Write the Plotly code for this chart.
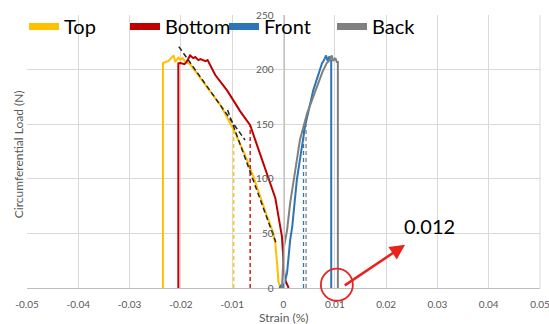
import plotly.graph_objects as go

# ---- measured curves: strain (%) vs circumferential load (N) ----
top_strain = [-0.0006, -0.0010, -0.0012, -0.0016, -0.0020, -0.0032, -0.0058, -0.0075,
              -0.0097, -0.0123, -0.0149, -0.0182, -0.0191, -0.0197, -0.0201, -0.0205,
              -0.0211, -0.0214, -0.0224, -0.0235, -0.0235]
top_load = [0, 6, 20, 41, 50.5, 65.5, 101, 122,
            145, 167.5, 184, 205, 207, 210.5, 209, 211,
            207, 213, 208, 206, 0]

bottom_strain = [0.0010, 0.0007, 0.0003, 0.0001, -0.0001, -0.0003, -0.0016, -0.0026,
                 -0.0045, -0.0065, -0.0084, -0.0110, -0.0133, -0.0143, -0.0148, -0.0152,
                 -0.0162, -0.0166, -0.0172, -0.0176, -0.0182, -0.0189, -0.0193, -0.0201,
                 -0.0205, -0.0205]
bottom_load = [0, 4, 7.6, 17, 30, 47, 82.5, 96,
               120, 149, 161.5, 181, 195, 205, 208.7, 207.8,
               209.6, 208.7, 211.5, 210.5, 213, 207, 205, 206,
               205.7, 0]

front_strain = [-0.0008, -0.0004, -0.0002, 0.0002, 0.0007, 0.0013, 0.0017, 0.0026,
                0.0042, 0.0058, 0.0075, 0.0079, 0.0083, 0.0086, 0.0089, 0.0092,
                0.0093, 0.0093]
front_load = [0, 3, 0, 4, 14, 44, 56, 99,
              148, 181, 205.7, 208.7, 213, 207.8, 212, 207.8,
              207.8, 0]

back_strain = [-0.0003, -0.0001, 0.0001, 0.0007, 0.0013, 0.0023, 0.0032, 0.0046,
               0.0065, 0.0076, 0.0084, 0.0090, 0.0094, 0.0097, 0.0101, 0.0104,
               0.0106, 0.0106]
back_load = [0, 30, 38, 53, 78, 108, 135.5, 160,
             184, 198, 205.7, 208.7, 213, 208, 210.5, 207,
             207, 0]

# strain read-off markers (dashed verticals) for each curve
marker_strain = [-0.0097, -0.0065, 0.0039, 0.0044]
marker_load = [145, 149, 148, 150]

# linear fits drawn over the Top curve
fit1_strain = [-0.0204, -0.0075]
fit1_load = [221, 135.5]
fit2_strain = [-0.0109, -0.0015]
fit2_load = [163, 42]

series_names = ["Top", "Bottom", "Front", "Back"]
series_colors = ["#FFC000", "#C00000", "#2E75B6", "#808080"]

x_tickvals = [-0.05, -0.04, -0.03, -0.02, -0.01, 0, 0.01, 0.02, 0.03, 0.04, 0.05]
x_ticktext = ["-0.05", "-0.04", "-0.03", "-0.02", "-0.01", "0",
              "0.01", "0.02", "0.03", "0.04", "0.05"]
y_tickvals = [0, 50, 100, 150, 200, 250]

highlight_point = (0.0104, 3)      # circled strain value
arrow_tail = (0.01165, 1.5)
arrow_head = (0.0237, 39.5)
label_pos = (0.0285, 57)
label_text = "0.012"

x_range = [-0.05, 0.05]
y_range = [0, 250]

W, H = 549, 324
M = dict(l=27, r=9, t=15, b=36)
plot_w = W - M["l"] - M["r"]
plot_h = H - M["t"] - M["b"]

FONT = "Lato, 'Open Sans', sans-serif"
GRID = "#D9D9D9"
TICK = "#595959"

# left edge (px) of each legend entry's text
legend_text_px = [64, 165, 264, 372]


def to_paper_x(v):
    return (v - x_range[0]) / (x_range[1] - x_range[0])


def to_paper_y(v):
    return (v - y_range[0]) / (y_range[1] - y_range[0])


fig = go.Figure()

curves = [(top_strain, top_load), (bottom_strain, bottom_load),
          (front_strain, front_load), (back_strain, back_load)]
for (xs, ys), color in zip(curves, series_colors):
    fig.add_trace(go.Scatter(x=xs, y=ys, mode="lines",
                             line=dict(color=color, width=2),
                             showlegend=False, hoverinfo="skip"))

for s, l, color in zip(marker_strain, marker_load, series_colors):
    fig.add_trace(go.Scatter(x=[s, s], y=[0, l], mode="lines",
                             line=dict(color=color, width=1.3, dash="4px,3px"),
                             showlegend=False, hoverinfo="skip"))

for xs, ys in [(fit1_strain, fit1_load), (fit2_strain, fit2_load)]:
    fig.add_trace(go.Scatter(x=xs, y=ys, mode="lines",
                             line=dict(color="#262626", width=1.5, dash="5px,3px"),
                             showlegend=False, hoverinfo="skip"))

# one legend box per series so each entry sits at its own position
legend_layout = {}
for i, (name, color, tx) in enumerate(zip(series_names, series_colors, legend_text_px)):
    key = "legend" if i == 0 else f"legend{i + 1}"
    fig.add_trace(go.Scatter(x=[None], y=[None], mode="lines", name=name,
                             line=dict(color=color, width=7), legend=key))
    legend_layout[key] = dict(
        orientation="h", x=(tx - 40 - M["l"]) / plot_w, y=1 + 8 / plot_h,
        xanchor="left", yanchor="top", bgcolor="rgba(0,0,0,0)",
        font=dict(family=FONT, size=20, color="#000000"), itemwidth=30)

# right edge of the plot frame
fig.add_shape(type="line", xref="paper", yref="paper", x0=1, x1=1, y0=0, y1=1,
              line=dict(color=GRID, width=1), layer="below")

# circled value, arrow and its label
cx, cy = to_paper_x(highlight_point[0]), to_paper_y(highlight_point[1])
rx, ry = 16 / plot_w, 16 / plot_h
fig.add_shape(type="circle", xref="paper", yref="paper",
              x0=cx - rx, x1=cx + rx, y0=cy - ry, y1=cy + ry,
              line=dict(color="#E8231E", width=1.8))

fig.add_annotation(x=arrow_head[0], y=arrow_head[1], xref="x", yref="y",
                   ax=arrow_tail[0], ay=arrow_tail[1], axref="x", ayref="y",
                   text="", showarrow=True, arrowhead=2, arrowsize=1.2,
                   arrowwidth=2.5, arrowcolor="#E8231E")
fig.add_annotation(x=label_pos[0], y=label_pos[1], xref="x", yref="y",
                   text=label_text, showarrow=False,
                   font=dict(family=FONT, size=20, color="#000000"))

# axis titles
fig.add_annotation(text="Strain (%)", xref="paper", yref="paper",
                   x=to_paper_x(0), y=-(317 - (H - M["b"])) / plot_h,
                   showarrow=False, xanchor="center", yanchor="middle",
                   font=dict(family=FONT, size=12, color=TICK))
fig.add_annotation(text="Circumferential Load (N)", xref="paper", yref="paper",
                   x=-9 / plot_w, y=0.49, textangle=-90, showarrow=False,
                   xanchor="center", yanchor="middle",
                   font=dict(family=FONT, size=12, color=TICK))

fig.update_layout(
    width=W, height=H, margin=dict(M, autoexpand=False),
    paper_bgcolor="white", plot_bgcolor="white",
    font=dict(family=FONT, color=TICK),
    showlegend=True,
    xaxis=dict(range=[x_range[0] - 1e-9, x_range[1] + 1e-9],
               tickvals=x_tickvals, ticktext=x_ticktext,
               showgrid=True, gridcolor=GRID, gridwidth=1, zeroline=False,
               showline=True, linecolor="#BFBFBF", linewidth=1,
               ticks="", ticklabelstandoff=7, ticklabeloverflow="allow",
               automargin=False,
               tickfont=dict(family=FONT, size=10, color=TICK)),
    yaxis=dict(range=[y_range[0], y_range[1] + 1e-6], tickvals=y_tickvals,
               showgrid=True, gridcolor=GRID, gridwidth=1, zeroline=False,
               anchor="free", position=0.5, automargin=False,
               showline=True, linecolor="#BFBFBF", linewidth=1,
               ticks="", ticklabelstandoff=8,
               tickfont=dict(family=FONT, size=10, color=TICK)),
    **legend_layout,
)

fig.write_html("out.html")
